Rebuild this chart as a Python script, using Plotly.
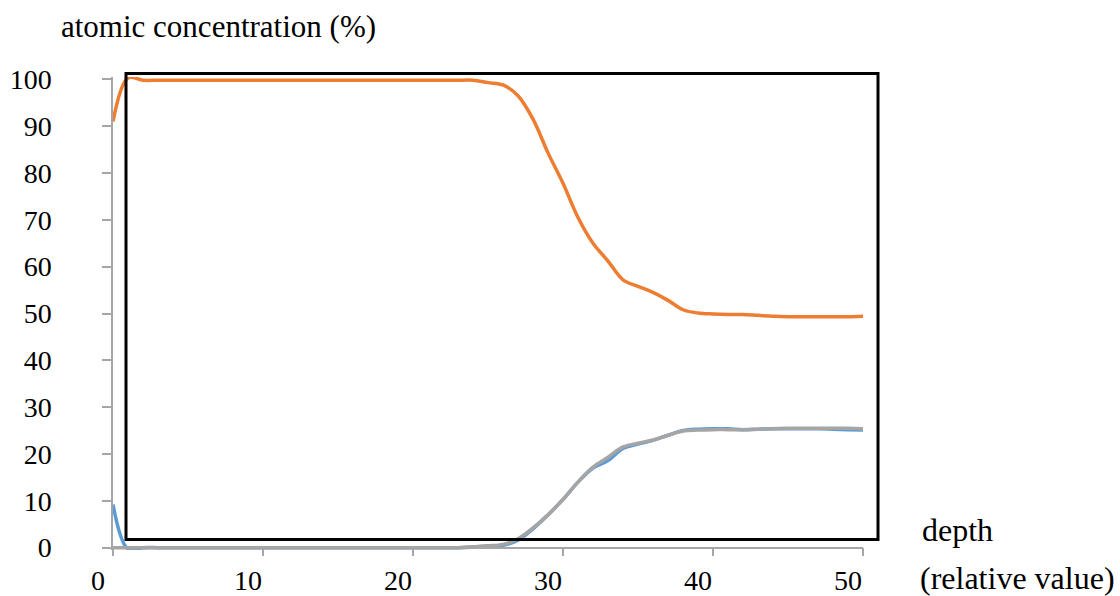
import plotly.graph_objects as go

# ---- data ----
depth = list(range(0, 51))

oxygen = [91.0, 100.3, 99.8, 99.8, 99.8, 99.8, 99.8, 99.8, 99.8, 99.8,
          99.8, 99.8, 99.8, 99.8, 99.8, 99.8, 99.8, 99.8, 99.8, 99.8,
          99.8, 99.8, 99.8, 99.8, 99.8, 99.3, 98.8, 96.5, 91.5, 84.3,
          77.8, 70.5, 65.0, 61.2, 57.2, 55.8, 54.5, 52.8, 50.8, 50.1,
          49.9, 49.8, 49.8, 49.6, 49.4, 49.3, 49.3, 49.3, 49.3, 49.3,
          49.4]

blue_series = [9.2, -0.3, 0.0, 0.0, 0.0, 0.0, 0.0, 0.0, 0.0, 0.0,
               0.0, 0.0, 0.0, 0.0, 0.0, 0.0, 0.0, 0.0, 0.0, 0.0,
               0.0, 0.0, 0.0, 0.0, 0.1, 0.3, 0.5, 1.6, 4.0, 7.0,
               10.3, 14.0, 17.0, 18.6, 21.2, 22.1, 22.9, 24.0, 25.0, 25.3,
               25.4, 25.4, 25.2, 25.3, 25.4, 25.4, 25.4, 25.4, 25.3, 25.2,
               25.1]

gray_series = [0.0, 0.0, 0.0, 0.0, 0.0, 0.0, 0.0, 0.0, 0.0, 0.0,
               0.0, 0.0, 0.0, 0.0, 0.0, 0.0, 0.0, 0.0, 0.0, 0.0,
               0.0, 0.0, 0.0, 0.0, 0.2, 0.4, 0.7, 1.9, 4.2, 7.0,
               10.3, 14.0, 17.2, 19.3, 21.5, 22.3, 23.0, 24.0, 24.9, 25.1,
               25.2, 25.2, 25.2, 25.3, 25.4, 25.5, 25.5, 25.5, 25.5, 25.5,
               25.4]

x_ticks = [0, 10, 20, 30, 40, 50]
x_tick_labels = ["0", "10", "20", "30", "40", "50"]
y_ticks = [0, 10, 20, 30, 40, 50, 60, 70, 80, 90, 100]
y_tick_labels = [str(v) for v in y_ticks]

# ---- geometry (pixels) ----
W, H = 1120, 596
ML, MR, MT, MB = 113, 257, 77, 46
PW, PH = W - ML - MR, H - MT - MB

def px_x(p):
    return (p - ML) / PW

def px_y(p):
    return (H - MB - p) / PH

FONT = "Liberation Serif"
AXIS_GRAY = "#A6A6A6"

fig = go.Figure()
fig.add_trace(go.Scatter(x=depth, y=blue_series, mode="lines",
                         line=dict(color="#5B9BD5", width=3.5, shape="spline"),
                         showlegend=False))
fig.add_trace(go.Scatter(x=depth, y=oxygen, mode="lines",
                         line=dict(color="#ED7D31", width=3.5, shape="spline"),
                         showlegend=False))
fig.add_trace(go.Scatter(x=depth, y=gray_series, mode="lines",
                         line=dict(color="#A5A5A5", width=3.5, shape="spline"),
                         showlegend=False))

fig.update_layout(
    width=W, height=H,
    margin=dict(l=ML, r=MR, t=MT, b=MB, pad=0, autoexpand=False),
    paper_bgcolor="white", plot_bgcolor="white",
    font=dict(family=FONT, color="#000000", size=28),
    xaxis=dict(range=[0, 50], tickmode="array", tickvals=x_ticks,
               ticktext=x_tick_labels, showgrid=False, zeroline=False,
               showline=True, linecolor=AXIS_GRAY, linewidth=1.5,
               ticks="outside", ticklen=8, tickcolor=AXIS_GRAY, tickwidth=1.5,
               ticklabelshift=-15, ticklabelstandoff=0,
               anchor="free", position=0.5 / 101, automargin=False,
               tickfont=dict(family=FONT, size=28, color="#000000")),
    yaxis=dict(range=[-0.5, 100.5], tickmode="array", tickvals=y_ticks,
               ticktext=y_tick_labels, showgrid=False, zeroline=False,
               showline=True, linecolor=AXIS_GRAY, linewidth=1.5,
               ticks="outside", ticklen=9, tickcolor=AXIS_GRAY, tickwidth=1.5,
               ticklabelstandoff=45, automargin=False,
               tickfont=dict(family=FONT, size=28, color="#000000")),
)

fig.add_shape(type="rect", xref="paper", yref="paper",
              x0=px_x(126), x1=px_x(878), y0=px_y(539.5), y1=px_y(73.5),
              line=dict(color="#000000", width=3), fillcolor="rgba(0,0,0,0)",
              layer="above")

fig.add_annotation(text="atomic concentration (%)", xref="paper", yref="paper",
                   x=px_x(59), y=px_y(27), xanchor="left", yanchor="middle",
                   showarrow=False, font=dict(family=FONT, size=31, color="#000000"))
fig.add_annotation(text="depth", xref="paper", yref="paper",
                   x=px_x(920), y=px_y(530), xanchor="left", yanchor="middle",
                   showarrow=False, font=dict(family=FONT, size=32, color="#000000"))
fig.add_annotation(text="(relative value)", xref="paper", yref="paper",
                   x=px_x(918), y=px_y(578), xanchor="left", yanchor="middle",
                   showarrow=False, font=dict(family=FONT, size=32, color="#000000"))

fig.write_html("out.html")
